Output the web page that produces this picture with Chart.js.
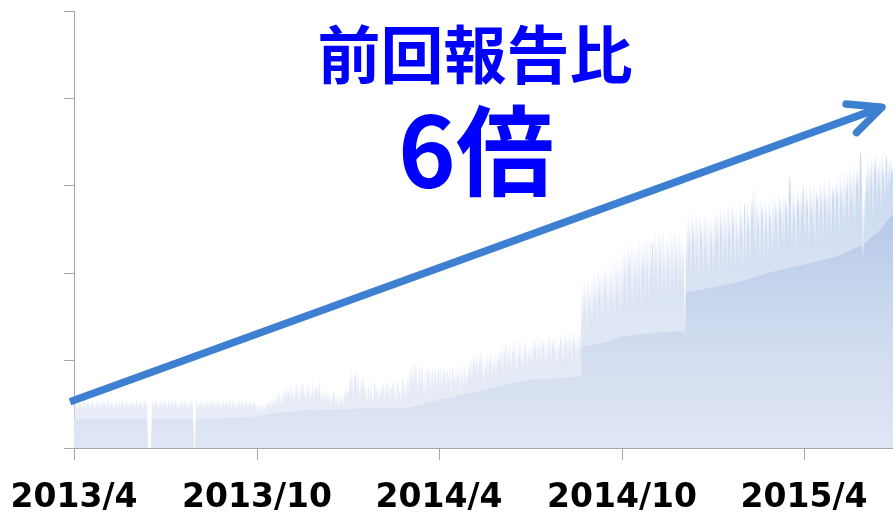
<!DOCTYPE html>
<html>
<head>
<meta charset="utf-8">
<script src="https://cdn.jsdelivr.net/npm/chart.js@4/dist/chart.umd.min.js"></script>
<style>
html,body{margin:0;padding:0;background:#fff;}
canvas{display:block;}
</style>
</head>
<body>
<canvas id="c" width="893" height="512"></canvas>
<script>
// ---- DATA (day 0 = 2013/4/1, one value per day, units: 1/100 of a y tick) ----
const TICK_DAYS   = [0, 183, 365, 548, 730];
const TICK_LABELS = ['2013/4', '2013/10', '2014/4', '2014/10', '2015/4'];
const LAST_DAY = 819;

const HEADLINE = '前回報告比';
const RATIO = '6倍';

// daily values
const PEAKS = [
// 2013/4
52,47,55,44,50,57,46,53,49,42,56,51,45,54,48,57,43,50,55,47,52,41,54,49,56,46,51,53,44,57,
// 2013/5
49,54,45,52,57,43,50,55,47,53,41,56,49,52,46,55,50,44,57,48,53,45,51,56,42,54,49,47,55,50,52,
// 2013/6
46,53,57,44,51,55,48,52,43,56,50,47,54,0,0,0,0,51,55,45,52,57,48,50,44,56,49,53,46,55,
// 2013/7
48,54,43,51,56,47,53,49,57,44,52,55,46,50,42,56,51,48,54,45,57,50,47,53,44,55,49,52,46,0,0,
// 2013/8
50,55,44,53,48,57,46,51,54,43,56,49,52,45,55,50,47,57,44,53,48,51,56,42,54,49,46,55,51,47,53,
// 2013/9
54,46,52,57,44,50,55,48,53,42,56,47,51,54,45,57,49,52,43,55,50,46,53,48,56,44,51,54,47,52,
// 2013/10
45,41,49,44,52,40,47,50,43,48,53,46,51,56,44,58,50,55,48,62,52,57,66,50,60,47,68,55,63,70,58,
// 2013/11
62,70,52,74,58,66,48,72,60,76,55,68,50,73,64,78,56,69,49,71,62,75,53,67,59,77,51,70,65,72,
// 2013/12
58,80,64,52,70,48,66,60,55,68,50,63,57,47,65,54,69,59,49,62,56,46,64,52,58,48,67,55,72,61,66,
// 2014/1
60,86,72,92,55,84,78,90,62,88,70,52,80,66,85,58,76,62,50,72,68,56,74,60,52,70,78,58,72,64,54,
// 2014/2
70,58,78,64,74,52,80,68,62,77,55,72,66,79,58,75,50,71,76,60,68,54,73,81,62,75,56,70,
// 2014/3
84,62,92,76,96,68,88,98,72,94,60,86,95,70,100,80,64,90,58,93,78,97,66,89,74,99,62,92,84,70,90,
// 2014/4
88,70,95,66,92,80,96,64,90,84,74,97,62,86,93,72,89,68,95,78,91,63,97,82,70,95,86,66,92,76,
// 2014/5
98,80,106,74,110,92,104,84,112,76,102,96,114,82,108,72,100,90,111,78,106,94,113,80,104,88,110,75,107,96,103,
// 2014/6
110,90,120,84,116,104,124,88,118,98,122,86,112,108,125,92,119,84,114,102,126,94,116,88,121,106,124,90,118,100,
// 2014/7
116,96,128,92,124,110,130,94,122,104,131,90,126,112,128,98,120,92,129,106,132,96,124,114,130,100,127,91,122,108,126,
// 2014/8
126,100,132,96,135,114,128,98,134,110,130,95,136,118,127,102,133,97,137,112,129,186,140,196,150,190,132,198,160,184,145,
// 2014/9
196,146,206,160,198,142,208,170,200,150,210,144,204,176,212,152,202,148,214,166,206,156,216,148,222,172,210,158,218,152,
// 2014/10
220,164,232,184,226,156,238,196,230,170,242,158,234,190,228,166,246,180,236,160,240,200,232,168,247,186,238,162,244,192,234,
// 2014/11
236,176,250,196,240,166,252,204,244,172,253,188,238,170,248,200,242,168,251,192,246,174,252,198,240,169,249,186,244,178,
// 2014/12
238,200,130,250,202,268,222,262,194,272,236,258,198,274,214,264,192,270,240,256,196,268,220,273,206,262,191,266,230,258,200,
// 2015/1
270,210,276,236,264,198,280,244,268,204,278,226,272,200,284,238,266,208,282,250,270,202,278,232,264,212,284,246,272,206,276,
// 2015/2
280,214,286,248,272,208,290,258,300,232,303,220,284,250,276,212,288,262,278,216,290,244,282,214,286,256,274,222,
// 2015/3
292,232,288,260,280,218,294,266,284,236,296,226,290,270,282,240,300,315,286,230,298,258,288,224,300,272,292,236,296,264,302,
// 2015/4
292,238,300,272,290,228,304,264,296,246,306,234,298,280,292,240,308,268,300,236,310,276,296,244,306,262,312,238,302,284,
// 2015/5
302,246,312,284,300,240,318,276,306,256,322,250,310,290,316,248,326,280,314,260,330,254,318,296,324,270,341,334,296,215,298,
// 2015/6
256,318,290,336,270,326,300,338,262,332,312,340,276,328,296,334,268,340,306,324,282,336,330,290,334,300,330,312,320
];

// steady base level under the daily spikes
const CORE_DAYS   = [0, 73, 74, 77, 78,119,120,121,122,183,200,230,275,334,365,400,430,456,487,507,508,530,548,580,610,611,612,640,671,699,730,760,788,789,790,805,819];
const CORE_VALUES = [33, 33,  0,  0, 33, 33,  0,  0, 33, 36, 40, 43, 45, 46, 55, 64, 72, 78, 80, 82,116,120,128,132,134,128,178,184,192,202,210,218,232,215,234,248,268];

// annotation arrow endpoints in data units [day, value]
const ARROW_FROM = [-4, 53];
const ARROW_TO   = [808, 390];

// ---- CHART ----
const AXIS_GRAY = '#a6a6a6';

function fillGradient(alpha) {
  return function (context) {
    const chart = context.chart;
    const area = chart.chartArea;
    if (!area) return 'rgba(200,213,237,' + alpha + ')';
    const y = chart.scales.y;
    const y0 = y.getPixelForValue(0), y1 = y.getPixelForValue(350);
    const g = chart.ctx.createLinearGradient(0, y0, 0, y1);
    g.addColorStop(0, 'rgba(223,230,244,' + alpha + ')');
    g.addColorStop(100 / 350, 'rgba(212,222,240,' + alpha + ')');
    g.addColorStop(200 / 350, 'rgba(195,210,236,' + alpha + ')');
    g.addColorStop(280 / 350, 'rgba(180,200,232,' + alpha + ')');
    g.addColorStop(1, 'rgba(172,194,230,' + alpha + ')');
    return g;
  };
}

const arrowAndText = {
  id: 'arrowAndText',
  afterDatasetsDraw(chart) {
    const { ctx, scales } = chart;
    const x = scales.x, y = scales.y;
    const x0 = x.getPixelForValue(ARROW_FROM[0]), y0 = y.getPixelForValue(ARROW_FROM[1]);
    const x1 = x.getPixelForValue(ARROW_TO[0]),   y1 = y.getPixelForValue(ARROW_TO[1]);
    const ang = Math.atan2(y0 - y1, x0 - x1);
    const head = 36, spread = 25 * Math.PI / 180;
    ctx.save();
    ctx.strokeStyle = '#3d7fd0';
    ctx.lineWidth = 7.5;
    ctx.lineCap = 'butt';
    ctx.beginPath();
    ctx.moveTo(x0, y0);
    ctx.lineTo(x1, y1);
    ctx.stroke();
    ctx.lineCap = 'round';
    ctx.lineJoin = 'round';
    ctx.beginPath();
    ctx.moveTo(x1 + head * Math.cos(ang + spread), y1 + head * Math.sin(ang + spread));
    ctx.lineTo(x1, y1);
    ctx.lineTo(x1 + head * Math.cos(ang - spread), y1 + head * Math.sin(ang - spread));
    ctx.stroke();

    ctx.fillStyle = '#0000ff';
    ctx.textAlign = 'center';
    ctx.textBaseline = 'middle';
    ctx.font = 'bold 63px "Noto Sans CJK JP"';
    ctx.fillText(HEADLINE, 475, 54);
    ctx.font = 'bold 98px "Noto Sans CJK JP"';
    ctx.fillText(RATIO, 476, 151);
    ctx.restore();
  }
};

if (PEAKS.length !== LAST_DAY + 1) console.error('PEAKS length ' + PEAKS.length);

new Chart(document.getElementById('c'), {
  type: 'line',
  data: {
    datasets: [
      {
        label: 'base',
        data: CORE_DAYS.map((d, i) => ({ x: d, y: CORE_VALUES[i] })),
        backgroundColor: fillGradient(1),
        borderWidth: 0,
        pointRadius: 0,
        fill: 'origin',
        tension: 0,
        order: 1
      },
      {
        label: 'daily',
        data: PEAKS.map((v, i) => ({ x: i, y: v })),
        backgroundColor: fillGradient(0.65),
        borderWidth: 0,
        pointRadius: 0,
        fill: 'origin',
        tension: 0,
        order: 2
      }
    ]
  },
  options: {
    responsive: false,
    animation: false,
    devicePixelRatio: 1,
    layout: { padding: { top: 11, left: 0, right: 0, bottom: 0 } },
    plugins: { legend: { display: false }, tooltip: { enabled: false } },
    scales: {
      x: {
        type: 'linear',
        min: 0,
        max: LAST_DAY,
        afterBuildTicks: (s) => { s.ticks = TICK_DAYS.map(v => ({ value: v })); },
        afterFit: (s) => { s.height = 64; s.paddingLeft = 0; s.paddingRight = 0; },
        ticks: {
          autoSkip: false,
          maxRotation: 0,
          padding: 19,
          color: '#000',
          font: { family: '"DejaVu Sans"', weight: 'bold', size: 33 },
          callback: (v) => TICK_LABELS[TICK_DAYS.indexOf(v)]
        },
        grid: { drawOnChartArea: false, tickLength: 12, color: AXIS_GRAY },
        border: { color: AXIS_GRAY }
      },
      y: {
        min: 0,
        max: 500,
        afterFit: (s) => { s.width = 74; },
        ticks: { display: false, stepSize: 100 },
        grid: { drawOnChartArea: false, tickLength: 10, color: AXIS_GRAY },
        border: { color: AXIS_GRAY }
      }
    }
  },
  plugins: [arrowAndText]
});
</script>
</body>
</html>
